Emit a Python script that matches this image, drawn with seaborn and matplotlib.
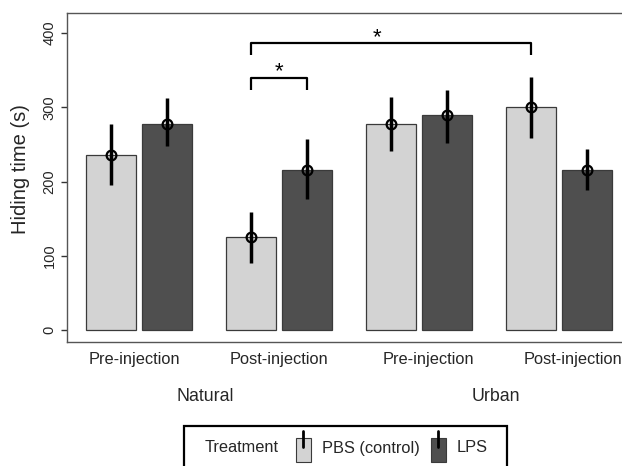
import numpy as np
import pandas as pd
import matplotlib
matplotlib.use("Agg")
import matplotlib.pyplot as plt
from matplotlib.patches import Rectangle
from matplotlib.lines import Line2D
import seaborn as sns

# ---- data ----
habitats = ["Natural", "Natural", "Urban", "Urban"]
periods = ["Pre-injection", "Post-injection", "Pre-injection", "Post-injection"]
treatments = ["PBS (control)", "LPS"]
pbs_mean = [236, 125, 278, 300]
pbs_lo = [195, 90, 241, 259]
pbs_hi = [277, 159, 314, 341]
lps_mean = [278, 216, 289, 216]
lps_lo = [248, 176, 252, 188]
lps_hi = [313, 257, 323, 244]
yticks = [0, 100, 200, 300, 400]

groups = [f"{h} {p}" for h, p in zip(habitats, periods)]
df = pd.DataFrame({
    "group": groups * 2,
    "treatment": [treatments[0]] * 4 + [treatments[1]] * 4,
    "mean": pbs_mean + lps_mean,
    "lo": pbs_lo + lps_lo,
    "hi": pbs_hi + lps_hi,
})

sns.set_style("white")
plt.rcParams["font.family"] = ["Liberation Sans", "DejaVu Sans"]

LIGHT = "#d3d3d3"
DARK = "#4f4f4f"
EDGE = "#3a3a3a"

W, H = 622, 466
fig = plt.figure(figsize=(W / 100, H / 100), dpi=100)
ax = fig.add_axes([67 / W, 1 - 342 / H, 564 / W, 329 / H])

sns.barplot(data=df, x="group", y="mean", hue="treatment", order=groups,
            hue_order=treatments, palette=[LIGHT, DARK], width=0.8, gap=0.11,
            edgecolor=EDGE, linewidth=0.9, errorbar=None, legend=False, ax=ax)

# error bars + open circles at bar centres
bar_containers = list(ax.containers)
centers = {}
for ti, cont in enumerate(bar_containers):
    sub = df[df["treatment"] == treatments[ti]].set_index("group").loc[groups]
    xs = [p.get_x() + p.get_width() / 2 for p in cont.patches]
    centers[ti] = xs
    m = sub["mean"].to_numpy()
    yerr = [m - sub["lo"].to_numpy(), sub["hi"].to_numpy() - m]
    ax.errorbar(xs, m, yerr=yerr, fmt="o", mfc="none", mec="black", ms=7,
                mew=1.6, ecolor="black", elinewidth=2.5, capsize=0, zorder=5)

# significance brackets
def bracket(x1, x2, ylow, ytop, star_y, frac=0.5):
    ax.plot([x1, x1, x2, x2], [ylow, ytop, ytop, ylow], color="black",
            lw=1.6, solid_capstyle="butt", zorder=6, clip_on=False)
    ax.text(x1 + frac * (x2 - x1), star_y, "*", ha="center", va="center",
            fontsize=16, color="black")

bracket(centers[0][1], centers[1][1], 323, 339, 348)
bracket(centers[0][1], centers[0][3], 370, 386, 394, frac=0.45)

ax.set_xlim(-0.515, 3.515)
ax.set_ylim(-16, 427)
ax.set_yticks(yticks)
ax.set_yticklabels([str(t) for t in yticks], rotation=90, va="center")
ax.tick_params(axis="y", left=True, length=4.5, width=1, color="#333333",
               labelsize=10.5, pad=3)
ax.set_xticks([-0.03, 1.0, 2.07, 3.1])
ax.set_xticklabels(periods)
ax.tick_params(axis="x", length=0, labelsize=11.8, pad=7)
ax.set_xlabel("")
ax.set_ylabel("Hiding time (s)", fontsize=14.5)
ax.yaxis.set_label_coords(-0.066, 0.525)

for s in ax.spines.values():
    s.set_visible(True)
    s.set_color("#555555")
    s.set_linewidth(1.0)

# habitat labels
trans = ax.get_xaxis_transform()
ax.text(0.47, -0.167, "Natural", transform=trans, ha="center", va="center",
        fontsize=12.8)
ax.text(2.55, -0.167, "Urban", transform=trans, ha="center", va="center",
        fontsize=12.8)

# legend drawn in figure pixels
def fx(x):
    return x / W

def fy(y):
    return 1 - y / H

fig.add_artist(Rectangle((fx(184), fy(476)), (507 - 184) / W, 50 / H,
                         transform=fig.transFigure, fill=False,
                         edgecolor="black", lw=1.6))
fig.text(fx(205), fy(448), "Treatment", ha="left", va="center", fontsize=11.8)
for x0, col, lab, tx in [(296, LIGHT, treatments[0], 322),
                         (431, DARK, treatments[1], 457)]:
    fig.add_artist(Rectangle((fx(x0), fy(462)), 14.5 / W, 24 / H,
                             transform=fig.transFigure, facecolor=col,
                             edgecolor=EDGE, lw=0.8))
    fig.add_artist(Line2D([fx(x0 + 7.2)] * 2, [fy(431), fy(447)],
                          transform=fig.transFigure, color="black", lw=2.0))
    fig.text(fx(tx), fy(448), lab, ha="left", va="center", fontsize=11.8)

fig.savefig("out.png", dpi=100)
